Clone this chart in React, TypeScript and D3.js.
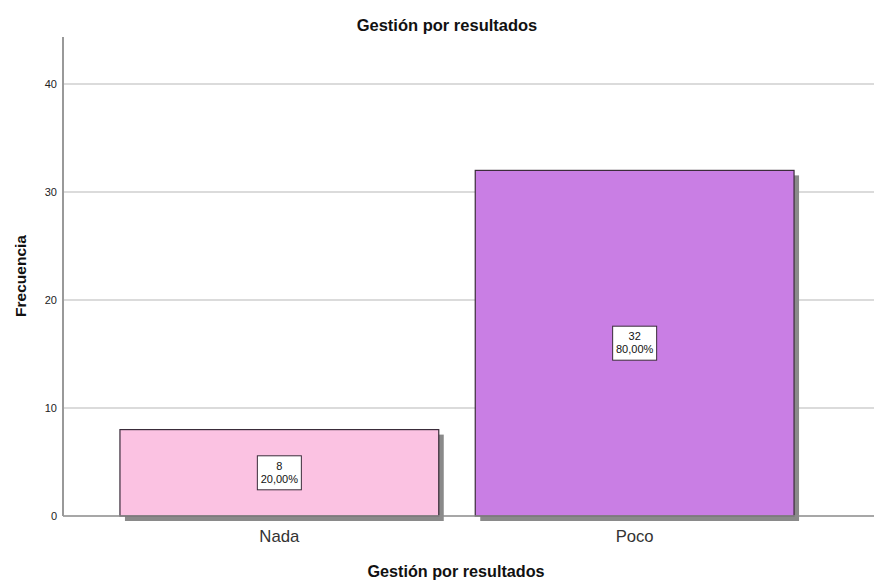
import React from "react";
import * as d3 from "d3";

const categories = ["Nada", "Poco"];
const counts = [8, 32];
const percents = ["20,00%", "80,00%"];
const colors = ["#fbc2e2", "#c97ee4"];
const yTicks = [0, 10, 20, 30, 40];

const W = 879;
const H = 583;

export default function App() {
  const y = d3.scaleLinear().domain([0, 44.35]).range([516, 37]);
  const x = d3
    .scaleBand<string>()
    .domain(categories)
    .range([63, 851])
    .paddingInner(0.1027)
    .paddingOuter(0.1603);
  const font = "'Liberation Sans', Arial, sans-serif";
  return (
    <svg
      width={W}
      height={H}
      style={{ position: "absolute", left: 0, top: 0, background: "#fff" }}
      fontFamily={font}
    >
      <rect x={0} y={0} width={W} height={H} fill="#fff" />
      {yTicks.filter((t) => t > 0).map((t) => (
        <line key={t} x1={63} x2={874} y1={y(t)} y2={y(t)} stroke="#cfcfcf" strokeWidth={1.5} />
      ))}
      {categories.map((c, i) => {
        const x0 = x(c)!;
        const bw = x.bandwidth();
        const y0 = y(counts[i]);
        const h = y(0) - y0;
        return (
          <g key={c}>
            <rect x={x0 + 5} y={y0 + 5} width={bw} height={h} fill="#8a8a8a" />
            <rect x={x0} y={y0} width={bw} height={h} fill={colors[i]} stroke="#3a2c3a" strokeWidth={1.2} />
          </g>
        );
      })}
      <line x1={63} x2={874} y1={y(0)} y2={y(0)} stroke="#8a8a8a" strokeWidth={1.5} />
      <line x1={63} x2={63} y1={37} y2={y(0)} stroke="#999" strokeWidth={2} />
      {yTicks.map((t) => (
        <text key={t} x={57} y={y(t) + 4} textAnchor="end" fontSize={11} fill="#222">
          {t}
        </text>
      ))}
      {categories.map((c, i) => {
        const cx = x(c)! + x.bandwidth() / 2;
        const cy = (y(counts[i]) + y(0)) / 2;
        return (
          <g key={c + "lbl"}>
            <rect x={cx - 22} y={cy - 17} width={44} height={34} fill="#fff" stroke="#3a2c3a" strokeWidth={1} />
            <text x={cx} y={cy - 3} textAnchor="middle" fontSize={11} fill="#111">
              {counts[i]}
            </text>
            <text x={cx} y={cy + 10} textAnchor="middle" fontSize={11} fill="#111">
              {percents[i]}
            </text>
            <text
              x={cx}
              y={542}
              textAnchor="middle"
              fontSize={17}
              fill="#333"
              textLength={c === "Nada" ? 40 : 38}
              lengthAdjust="spacingAndGlyphs"
            >
              {c}
            </text>
          </g>
        );
      })}
      <text x={447} y={31} textAnchor="middle" fontSize={16.5} fontWeight="bold" fill="#111">
        Gestión por resultados
      </text>
      <text x={456} y={577} textAnchor="middle" fontSize={16.2} fontWeight="bold" fill="#111">
        Gestión por resultados
      </text>
      <text
        transform={`translate(26,276) rotate(-90)`}
        textAnchor="middle"
        fontSize={15.5}
        fontWeight="bold"
        fill="#111"
      >
        Frecuencia
      </text>
    </svg>
  );
}
